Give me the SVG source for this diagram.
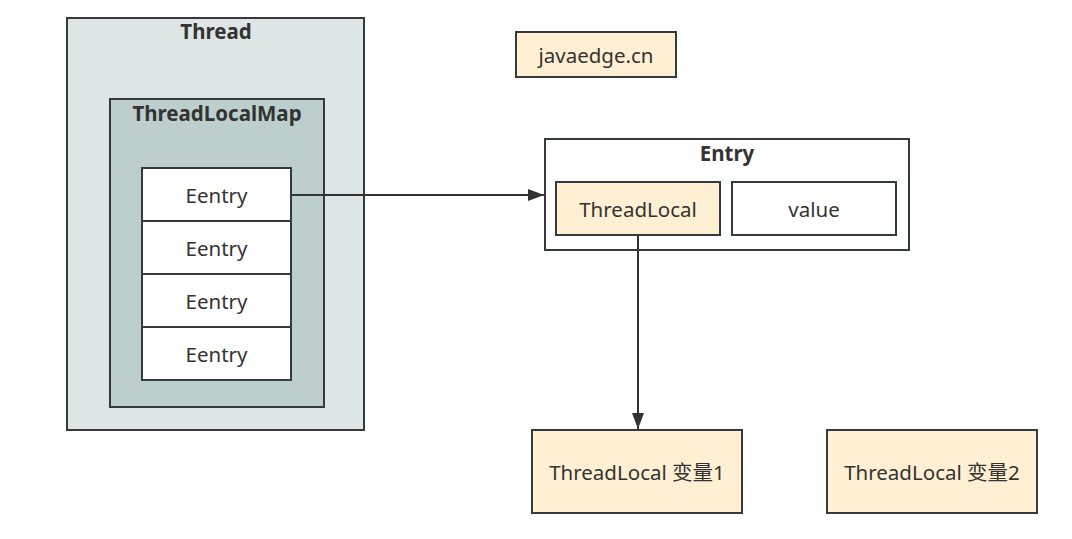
<svg xmlns="http://www.w3.org/2000/svg" width="1072" height="539" viewBox="0 0 1072 539">
<style>
text{font-family:"Noto Sans","Noto Sans CJK SC",sans-serif;fill:#333;font-size:20.5px;text-anchor:middle;dominant-baseline:central}
.b{font-weight:bold}
.box{stroke:#36393d;stroke-width:2}
.yel{fill:#fff0d4}
.wht{fill:#fff}
</style>
<defs>
<marker id="ar" viewBox="0 0 16 12" refX="16" refY="6" markerWidth="16" markerHeight="12" markerUnits="userSpaceOnUse" orient="auto"><path d="M0,0L16,6L0,12z" fill="#333"/></marker>
</defs>
<rect width="1072" height="539" fill="#fff"/>
<g id="thread"><rect class="box" x="67" y="18" width="297" height="412" fill="#dde6e5"/><text class="b" x="216" y="31">Thread</text></g>
<g id="threadlocalmap"><rect class="box" x="110" y="99" width="214" height="308" fill="#bccfcd"/><text class="b" x="217" y="113">ThreadLocalMap</text></g>
<g id="entry1"><rect class="box wht" x="142" y="168" width="149" height="53"/><text x="216.5" y="195">Eentry</text></g>
<g id="entry2"><rect class="box wht" x="142" y="221" width="149" height="53"/><text x="216.5" y="248">Eentry</text></g>
<g id="entry3"><rect class="box wht" x="142" y="274" width="149" height="53"/><text x="216.5" y="301">Eentry</text></g>
<g id="entry4"><rect class="box wht" x="142" y="327" width="149" height="53"/><text x="216.5" y="354">Eentry</text></g>
<g id="javaedge"><rect class="box yel" x="516" y="32" width="160" height="45"/><text x="596" y="55">javaedge.cn</text></g>
<g id="entry"><rect class="box wht" x="545" y="139" width="364" height="111"/><text class="b" x="727" y="153">Entry</text></g>
<g id="threadlocal"><rect class="box yel" x="556" y="182" width="164" height="53"/><text x="638" y="209">ThreadLocal</text></g>
<g id="value"><rect class="box wht" x="732" y="182" width="164" height="53"/><text x="814" y="209">value</text></g>
<g id="var1"><rect class="box yel" x="532" y="430" width="210" height="83"/><text x="637" y="472">ThreadLocal 变量1</text></g>
<g id="var2"><rect class="box yel" x="827" y="430" width="210" height="83"/><text x="932" y="472">ThreadLocal 变量2</text></g>
<g id="connectors" fill="none" stroke="#333" stroke-width="2">
<path d="M291,195H544" marker-end="url(#ar)"/>
<path d="M638,235V429" marker-end="url(#ar)"/>
</g>
</svg>
